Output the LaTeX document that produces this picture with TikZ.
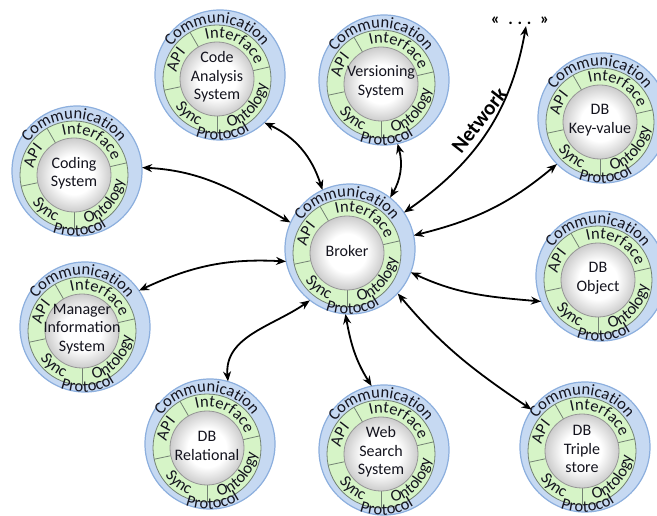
\documentclass[tikz,border=0pt]{standalone}
\usepackage{fontspec}
\setmainfont{Carlito}
\usetikzlibrary{arrows.meta,decorations.text,calc}

\definecolor{bluefill}{RGB}{198,217,242}
\definecolor{blueedge}{RGB}{140,175,222}
\definecolor{greenfill}{RGB}{214,244,199}
\definecolor{greenedge}{RGB}{115,130,115}
\definecolor{coreedge}{RGB}{150,150,150}
\definecolor{ringink}{RGB}{20,20,30}

\newcommand\ringfont{\fontsize{16.5}{19}\selectfont}
\newcommand\corefont{\fontsize{16}{18.5}\selectfont}

% white core fading to light grey at its rim
\pgfdeclareradialshading{coreshade}{\pgfpoint{0bp}{0bp}}{%
  color(0bp)=(white); color(13bp)=(white); color(25bp)=(black!20); color(50bp)=(black!20)}

% text set along an arc around the current origin
\newcommand\ringtext[4]{%
  \path[decorate,decoration={text along path,text align=center,
    text={|\ringfont\color{ringink}|#4}}]
    (#1:#3) arc[start angle=#1,end angle=#2,radius=#3];}

\tikzset{
  unitnode/.style={circle,minimum size=130pt,inner sep=0pt,draw=none},
  blueband/.style={fill=bluefill,draw=blueedge,line width=1.2pt},
  greenband/.style={fill=greenfill,draw=greenedge,line width=0.8pt},
  divider/.style={draw=greenedge,line width=0.8pt},
  coreline/.style={draw=coreedge,line width=0.8pt},
  corelabel/.style={align=center,font=\corefont,text=ringink,inner sep=0pt},
  link/.style={line width=1.8pt,black,
    {Stealth[length=10pt,width=8pt]}-{Stealth[length=10pt,width=8pt]}},
  dotslabel/.style={font=\bfseries\fontsize{17}{20}\selectfont,text=black,inner sep=1pt},
  netlabel/.style={font=\bfseries\fontsize{21}{25}\selectfont,text=black,inner sep=0pt},
}

% one communication unit: protocol ring, interface ring, core with its name
\newcommand\ringunit[4]{%
  \node[unitnode] (#1) at (#2,-#3) {};
  \filldraw[blueband] (#2,-#3) circle[radius=65];
  \begin{scope}[shift={(#2-3,-#3-4)}]
    \filldraw[greenband] (0,0) circle[radius=54];
    \foreach \a in {13,120,192,270} \draw[divider] (\a:37) -- (\a:54);
    \shade[shading=coreshade] (0,0) circle[radius=37];
    \draw[coreline] (0,0) circle[radius=37];
    \ringtext{165}{15}{56}{Communication}
    \ringtext{215}{337}{61}{Protocol}
    \ringtext{120}{6}{41}{Interface}
    \ringtext{195}{115}{41}{API}
    \ringtext{192}{270}{50}{Sync}
    \ringtext{270}{368}{50}{Ontology}
  \end{scope}
  \node[corelabel] (#1-label) at (#2-3,-#3-2) {#4};
}

\begin{document}
\begin{tikzpicture}[x=1pt,y=1pt]
  \useasboundingbox (0,0) rectangle (657,-516);
  \clip (0,0) rectangle (657,-516);
  \fill[white] (0,0) rectangle (657,-516);

  \ringunit{broker}{350}{249}{Broker}
  \ringunit{codeanalysis}{220}{75}{Code\\Analysis\\System}
  \ringunit{versioning}{384}{80}{Versioning\\System}
  \ringunit{coding}{77}{171}{Coding\\System}
  \ringunit{manager}{85}{327}{Manager\\Information\\System}
  \ringunit{relational}{210}{444}{DB\\Relational}
  \ringunit{websearch}{384}{450}{Web\\Search\\System}
  \ringunit{triple}{585}{447}{DB\\Triple\\store}
  \ringunit{keyvalue}{603}{118}{DB\\Key-value}
  \ringunit{object}{601}{276}{DB\\Object}

  \node[dotslabel] (etc) at (520,-21) {«\enspace.\;.\;.\enspace»};
  \node[netlabel,rotate=52] (network) at (479,-120) {Network};

  \draw[link] (coding.3) to[out=-3,in=150] (broker.156);
  \draw[link] (codeanalysis.-47) to[out=-25,in=108] (broker.115);
  \draw[link] (versioning.-78) to[out=-75,in=60] (broker.52);
  \draw[link] (broker.34) to[out=35,in=-100] ([xshift=6pt]etc.south);
  \draw[link] (broker.12) to[out=14,in=220] (keyvalue.225);
  \draw[link] (broker.-21) to[out=-25,in=175] (object.203);
  \draw[link] (broker.-43) to[out=-50,in=146] (triple.145);
  \draw[link] (broker.-94) to[out=-80,in=122] (websearch.101);
  \draw[link] (broker.232) to[out=215,in=95] (relational.74);
  \draw[link] (manager.34) to[out=25,in=177] (broker.191);
\end{tikzpicture}
\end{document}
